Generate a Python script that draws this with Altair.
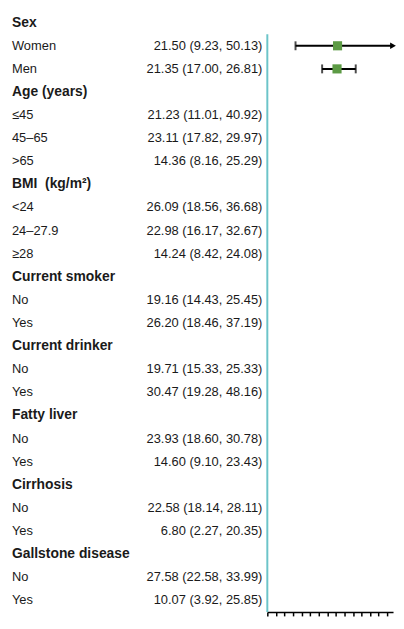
import altair as alt
import pandas as pd

FONT = "Liberation Sans"

LABELS = ["Sex", "Women", "Men", "Age (years)", "≤45", "45–65", ">65",
          "BMI\u00a0 (kg/m²)", "<24", "24–27.9", "≥28", "Current smoker", "No", "Yes",
          "Current drinker", "No", "Yes", "Fatty liver", "No", "Yes",
          "Cirrhosis", "No", "Yes", "Gallstone disease", "No", "Yes"]
HEADER = [1, 0, 0, 1, 0, 0, 0, 1, 0, 0, 0, 1, 0, 0, 1, 0, 0, 1, 0, 0, 1, 0, 0, 1, 0, 0]
EST = [None, 21.50, 21.35, None, 21.23, 23.11, 14.36, None, 26.09, 22.98, 14.24, None,
       19.16, 26.20, None, 19.71, 30.47, None, 23.93, 14.60, None, 22.58, 6.80, None,
       27.58, 10.07]
LO = [None, 9.23, 17.00, None, 11.01, 17.82, 8.16, None, 18.56, 16.17, 8.42, None,
      14.43, 18.46, None, 15.33, 19.28, None, 18.60, 9.10, None, 18.14, 2.27, None,
      22.58, 3.92]
HI = [None, 50.13, 26.81, None, 40.92, 29.97, 25.29, None, 36.68, 32.67, 24.08, None,
      25.45, 37.19, None, 25.33, 48.16, None, 30.78, 23.43, None, 28.11, 20.35, None,
      33.99, 25.85]
SHOWN = [0, 1, 1, 0, 0, 0, 0, 0, 0, 0, 0, 0, 0, 0, 0, 0, 0, 0, 0, 0, 0, 0, 0, 0, 0, 0]

X_DOMAIN = [1, 37.7]
REF = 1
TICKS = [1, 3.5, 6, 8.5, 11, 13.5, 16, 18.5, 21, 23.5, 26, 28.5, 31, 33.5, 36]

n = len(LABELS)
rows = []
for i in range(n):
    txt = "" if HEADER[i] else f"{EST[i]:.2f} ({LO[i]:.2f}, {HI[i]:.2f})"
    rows.append({"row": i, "label": LABELS[i], "header": HEADER[i], "value": txt,
                 "est": EST[i], "lo": LO[i], "hi": HI[i], "shown": SHOWN[i]})
df = pd.DataFrame(rows)

fp = df[df["shown"] == 1].copy()
fp["clipped"] = fp["hi"] > X_DOMAIN[1]
fp["hi_c"] = fp["hi"].clip(upper=X_DOMAIN[1])

H = 607
ys = alt.Scale(domain=[-0.5, n - 0.5], reverse=True)
yenc = alt.Y("row:Q", scale=ys, axis=None)

base = alt.Chart(df)
heads = base.transform_filter("datum.header == 1").mark_text(
    align="left", baseline="middle", font=FONT, fontSize=14, fontWeight="bold", color="#1a1a1a"
).encode(x=alt.value(4), y=yenc, text="label:N")
subs = base.transform_filter("datum.header == 0").mark_text(
    align="left", baseline="middle", font=FONT, fontSize=13, color="#1a1a1a"
).encode(x=alt.value(4), y=yenc, text="label:N")
vals = base.transform_filter("datum.header == 0").mark_text(
    align="right", baseline="middle", font=FONT, fontSize=13, color="#1a1a1a"
).encode(x=alt.value(257), y=yenc, text="value:N")
left = alt.layer(heads, subs, vals).properties(width=261, height=H)

xs = alt.Scale(domain=X_DOMAIN, nice=False, zero=False)
xaxis = alt.Axis(values=TICKS, labels=False, grid=False, title=None, domainColor="black",
                 tickColor="black", tickSize=4, domainWidth=1.5, tickWidth=1.5)

first_sub = int(df[df["header"] == 0]["row"].min())
refline = alt.Chart(pd.DataFrame({"x": [REF], "y0": [first_sub - 0.5], "y1": [n - 0.5]})).mark_rule(
    color="#6cc4c9", strokeWidth=2
).encode(x=alt.X("x:Q", scale=xs, axis=xaxis),
         y=alt.Y("y0:Q", scale=ys, axis=None),
         y2="y1:Q")

fb = alt.Chart(fp)
ci = fb.mark_rule(color="black", strokeWidth=2).encode(
    x=alt.X("lo:Q", scale=xs, axis=xaxis), x2="hi_c:Q", y=yenc)
cap_lo = fb.mark_tick(orient="vertical", size=9, thickness=2, color="black").encode(
    x=alt.X("lo:Q", scale=xs, axis=xaxis), y=yenc)
cap_hi = fb.transform_filter("!datum.clipped").mark_tick(
    orient="vertical", size=9, thickness=2, color="black").encode(
    x=alt.X("hi:Q", scale=xs, axis=xaxis), y=yenc)
arrow = fb.transform_filter("datum.clipped").mark_point(
    shape="triangle-right", filled=True, size=45, color="black", opacity=1).encode(
    x=alt.X("hi_c:Q", scale=xs, axis=xaxis), y=yenc)
pt = fb.mark_square(size=85, color="#5c9a44", opacity=1).encode(
    x=alt.X("est:Q", scale=xs, axis=xaxis), y=yenc)

right = alt.layer(refline, ci, cap_lo, cap_hi, arrow, pt).properties(width=127, height=H)

chart = alt.hconcat(left, right, spacing=0).properties(padding=0).configure_view(stroke=None)

chart.save("out.html", embed_options={"renderer": "svg", "actions": False})
